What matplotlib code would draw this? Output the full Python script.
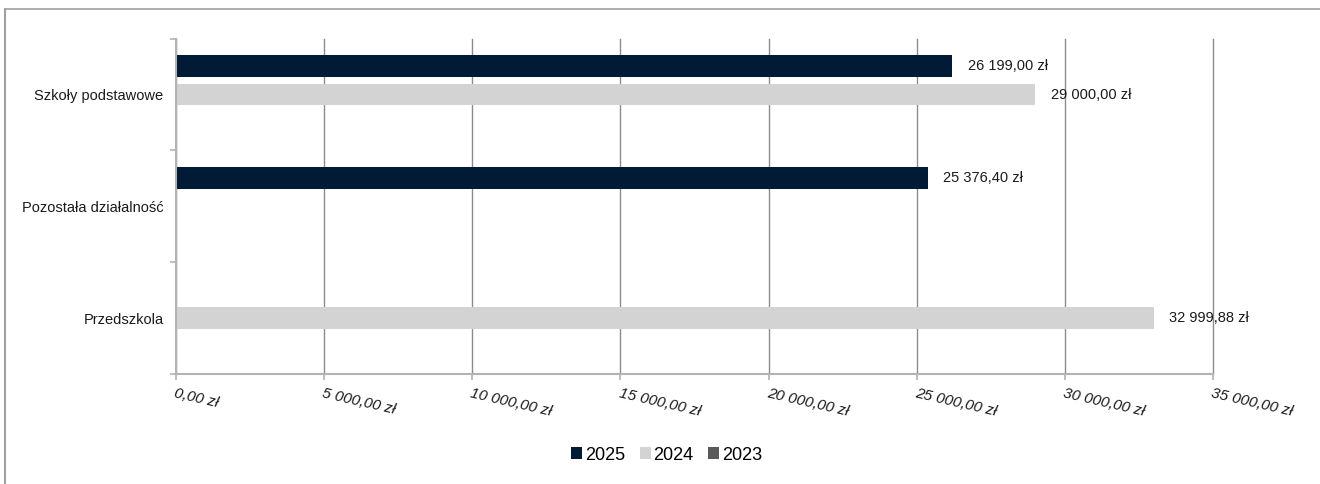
import matplotlib.pyplot as plt
from matplotlib.patches import Patch
from matplotlib.lines import Line2D
import numpy as np

#-----Data------------------------------------------------------------------
categories = ['Szkoły podstawowe', 'Pozostała działalność', 'Przedszkola']
series = ['2025', '2024', '2023']
v2025 = [26199.00, 25376.40, np.nan]
v2024 = [29000.00, np.nan, 32999.88]
v2023 = [np.nan, np.nan, np.nan]
xticks = [0, 5000, 10000, 15000, 20000, 25000, 30000, 35000]
colors = ['#011a35', '#d3d3d3', '#595959']


def zl(v):
    s = f'{v:,.2f}'.replace(',', ' ').replace('.', ',')
    return s + ' zł'


plt.rcParams['font.family'] = ['Liberation Sans', 'DejaVu Sans']

fig = plt.figure(figsize=(13.2, 4.84), dpi=100)
ax = fig.add_axes([176/1320, 1-374/484, (1213-176)/1320, (374-38.7)/484])

#-----Bars------------------------------------------------------------------
y = np.arange(len(categories))
h = 0.193
step = 0.254
for i, (name, vals) in enumerate(zip(series, [v2025, v2024, v2023])):
    pos = y + (i - 1) * step
    ax.barh(pos, np.nan_to_num(vals), height=h, color=colors[i], zorder=3)
    for p, v in zip(pos, vals):
        if not np.isnan(v):
            ax.annotate(zl(v), (v, p), xytext=(11, 0), textcoords='offset points',
                        va='center', ha='left', fontsize=10.5, color='#1a1a1a')

#-----Axes------------------------------------------------------------------
ax.set_ylim(2.5, -0.5)
ax.set_xlim(0, 35000)
ax.set_yticks([-0.5, 0.5, 1.5, 2.5])
ax.set_yticklabels([])
ax.set_yticks(y, minor=True)
ax.set_yticklabels(categories, minor=True, fontsize=10.5, color='#1a1a1a')
ax.tick_params(axis='y', which='minor', length=0, pad=9)
ax.tick_params(axis='y', which='major', length=4, color='#b3b3b3', width=1.2)

ax.set_xticks(xticks)
ax.set_xticklabels([zl(t) for t in xticks], fontsize=11, style='italic',
                   rotation=-13, rotation_mode='anchor', ha='left', va='top',
                   color='#1a1a1a')
ax.tick_params(axis='x', length=4, color='#b3b3b3', width=1.2, pad=5)
ax.grid(axis='x', color='#8c8c8c', linewidth=1, zorder=0)
for gl in ax.get_xgridlines():
    gl.set_clip_on(False)

for s in ['top', 'right']:
    ax.spines[s].set_visible(False)
for s in ['left', 'bottom']:
    ax.spines[s].set_color('#b3b3b3')
    ax.spines[s].set_linewidth(1.5)
    ax.spines[s].set_zorder(4)

#-----Legend----------------------------------------------------------------
handles = [Patch(facecolor=c, edgecolor='none') for c in colors]
fig.legend(handles, series, loc='center', bbox_to_anchor=(0.505, 1-455/484), ncol=3,
           frameon=False, fontsize=13, handlelength=0.62, handleheight=0.62,
           handletextpad=0.15, columnspacing=0.8)

#-----Outer frame (top and left only)---------------------------------------
fig.add_artist(Line2D([4.5/1320, 1], [1-9/484, 1-9/484], color='#a0a0a0', lw=1.2,
                      transform=fig.transFigure))
fig.add_artist(Line2D([4.5/1320, 4.5/1320], [0, 1-9/484], color='#a0a0a0', lw=1.5,
                      transform=fig.transFigure))

fig.savefig('out.png', dpi=100)
